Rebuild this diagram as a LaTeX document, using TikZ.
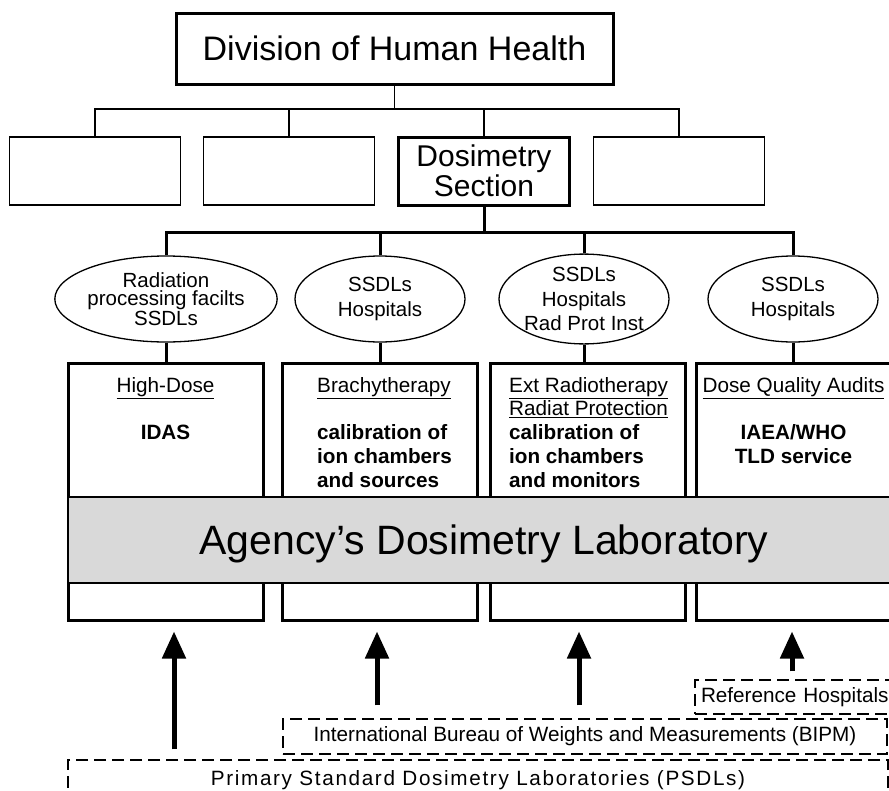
\documentclass[tikz,border=0pt]{standalone}
\usepackage{fontspec}
\setmainfont{Liberation Sans}
\usetikzlibrary{shapes.geometric,arrows.meta}

\tikzset{
	headbox/.style={draw, line width=3pt, minimum width=437pt, minimum height=71pt, inner sep=0pt, font=\fontsize{34}{40}\selectfont},
	unitbox/.style={draw, line width=1.3pt, minimum width=171pt, minimum height=68pt, inner sep=0pt},
	secbox/.style={unitbox, line width=3pt, align=center, font=\fontsize{30}{30}\selectfont},
	groupell/.style={draw, ellipse, line width=1.3pt, minimum width=170pt, minimum height=86pt, inner sep=0pt, align=center, font=\fontsize{20.5}{24.5}\selectfont},
	colbox/.style={draw, line width=3pt, minimum width=195pt, minimum height=257pt, inner sep=0pt},
	coltext/.style={anchor=north, inner sep=0pt, font=\fontsize{20.7}{23.7}\selectfont},
	band/.style={draw, line width=1.3pt, fill=black!15, minimum width=832pt, minimum height=86pt, inner sep=0pt, text depth=0pt, font=\fontsize{41}{41}\selectfont},
	dashbox/.style={draw, line width=1.5pt, dash pattern=on 12pt off 6pt, inner sep=0pt, font=\fontsize{20.7}{24}\selectfont},
	uparrow/.style={line width=5pt, -{Triangle[width=23pt,length=27pt]}, shorten >=10pt},
	thinline/.style={line width=1.3pt},
	busline/.style={line width=3pt}
}

\begin{document}
\begin{tikzpicture}[x=1pt, y=-1pt]
	\useasboundingbox (0,0) rectangle (889,790);
	\clip (0,0) rectangle (889,790);

	% division and its sections
	\node[headbox] (div) at (394.5,48.5) {Division of Human Health};
	\node[unitbox] (u1) at (95,171) {};
	\node[unitbox] (u2) at (289,171) {};
	\node[secbox] (sec) at (484,171) {Dosimetry\\Section};
	\node[unitbox] (u4) at (679,171) {};
	\coordinate (bar) at (394.5,109);
	\draw[thinline] (div.south) -- (bar);
	\draw[thinline] (u1.north) |- (bar) -| (u4.north);
	\foreach \u in {u2,sec}
		\draw[thinline] (\u.north) -- (\u.north |- bar);

	% user groups
	\node[groupell, font=\fontsize{20.5}{18.5}\selectfont] (e1) at (166,299) {Radiation\\processing facilts\\SSDLs};
	\node[groupell] (e2) at (380,299) {SSDLs\\Hospitals};
	\node[groupell] (e3) at (584,299) {SSDLs\\Hospitals\\Rad Prot Inst};
	\node[groupell] (e4) at (793,299) {SSDLs\\Hospitals};
	\coordinate (bus) at (484,232);
	\draw[busline] (sec.south) -- (bus);
	\draw[busline] (e1.north) |- (bus) -| (e4.north);
	\foreach \e in {e2,e3}
		\draw[busline] (\e.north) -- (\e.north |- bus);

	% services
	\node[colbox] (colA) at (165.5,491.5) {};
	\node[colbox] (colB) at (379.5,491.5) {};
	\node[colbox] (colC) at (587.5,491.5) {};
	\node[colbox] (colD) at (793.5,491.5) {};
	\foreach \e/\c in {e1/colA, e2/colB, e3/colC, e4/colD}
		\draw[busline] (\e.south) -- (\e.south |- \c.north);

	\node[coltext, align=center] (txtA) at (165.5,377) {\underline{High-Dose}\\~\\\textbf{IDAS}};
	\node[coltext, anchor=north west, align=left] (txtB) at (317,377) {\underline{Brachytherapy}\\~\\\textbf{calibration of}\\\textbf{ion chambers}\\\textbf{and sources}};
	\node[coltext, anchor=north west, align=left] (txtC) at (509,377) {\underline{Ext Radiotherapy}\\\underline{Radiat Protection}\\\textbf{calibration of}\\\textbf{ion chambers}\\\textbf{and monitors}};
	\node[coltext, align=center] (txtD) at (793.5,377) {\underline{Dose Quality Audits}\\~\\\textbf{IAEA/WHO}\\\textbf{TLD service}};

	% laboratory band
	\node[band] (lab) at (484,540) {Agency’s Dosimetry Laboratory};

	% traceability
	\node[dashbox, minimum width=300pt, minimum height=34pt, text width=288pt, align=left] (refh) at (845,697) {Reference Hospitals};
	\node[dashbox, minimum width=604pt, minimum height=35pt] (bipm) at (585,736.5) {International Bureau of Weights and Measurements (BIPM)};
	\node[dashbox, minimum width=820pt, minimum height=36pt, text depth=0pt] (psdl) at (478,778) {\addfontfeature{LetterSpace=8}Primary Standard Dosimetry Laboratories (PSDLs)};

	\foreach \src/\dst/\x/\gap in {psdl/colA/174/10, bipm/colB/377/13, bipm/colC/579/13, refh/colD/792/8}
		\draw[uparrow, shorten <=\gap pt] (\src.north -| \x,0) -- (\dst.south -| \x,0);
\end{tikzpicture}
\end{document}
